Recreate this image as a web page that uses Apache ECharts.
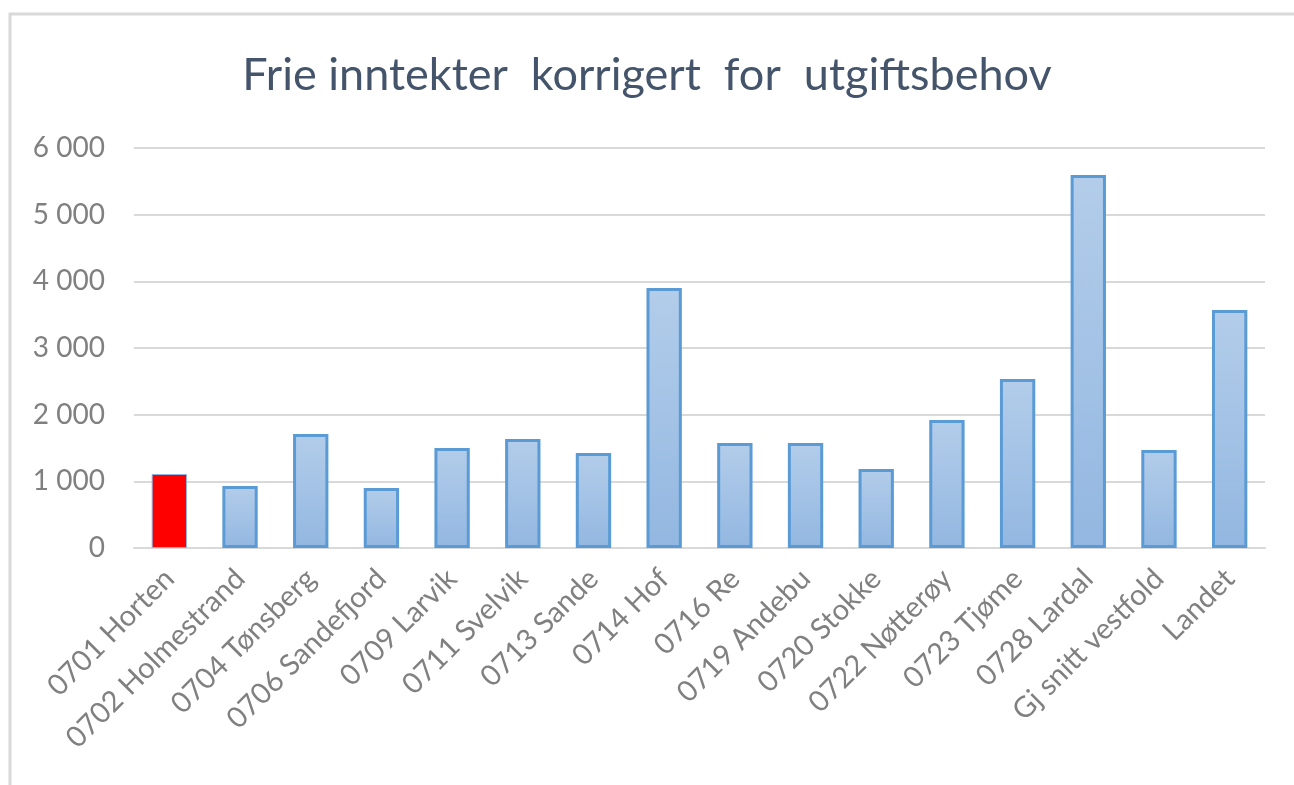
<!DOCTYPE html>
<html>
<head>
<meta charset="utf-8">
<script src="https://cdn.jsdelivr.net/npm/echarts@6/dist/echarts.min.js"></script>
<style>
  html, body { margin: 0; padding: 0; background: #fff; }
  #chart { width: 1294px; height: 785px; }
</style>
</head>
<body>
<div id="chart"></div>
<script>
const categories = [
  '0701 Horten', '0702 Holmestrand', '0704 Tønsberg', '0706 Sandefjord',
  '0709 Larvik', '0711 Svelvik', '0713 Sande', '0714 Hof', '0716 Re',
  '0719 Andebu', '0720 Stokke', '0722 Nøtterøy', '0723 Tjøme',
  '0728 Lardal', 'Gj snitt vestfold', 'Landet'
]
const values = [
  1110, 930, 1710, 900, 1500, 1635, 1425, 3900, 1575,
  1575, 1185, 1920, 2535, 5595, 1470, 3570
]
const highlighted = ['0701 Horten']
const yTicks = { min: 0, max: 6000, interval: 1000 }

const FONT = 'Lato'

const blueFill = new echarts.graphic.LinearGradient(0, 0, 0, 1, [
  { offset: 0, color: '#b3cdea' },
  { offset: 1, color: '#93b7e1' }
])

const barData = categories.map((name, i) => {
  if (highlighted.indexOf(name) >= 0) {
    return {
      value: values[i],
      itemStyle: { color: '#ff0000', borderColor: '#8db4e2', borderWidth: 1 }
    }
  }
  return values[i]
})

const chart = echarts.init(document.getElementById('chart'))
chart.setOption({
  animation: false,
  textStyle: { fontFamily: FONT },
  graphic: [{
    type: 'rect',
    shape: { x: 10, y: 14, width: 1300, height: 800 },
    style: { fill: 'none', stroke: '#d9d9d9', lineWidth: 3 },
    silent: true
  }],
  title: {
    text: 'Frie inntekter  korrigert  for  utgiftsbehov',
    left: 'center',
    top: 48,
    textStyle: { fontFamily: FONT, fontSize: 45, fontWeight: 'normal', color: '#44546a' }
  },
  grid: { left: 134, right: 29, top: 148, bottom: 237 },
  xAxis: {
    type: 'category',
    data: categories,
    axisLine: { show: true, lineStyle: { color: '#d9d9d9', width: 2 } },
    axisTick: { show: false },
    axisLabel: {
      rotate: 45,
      interval: 0,
      margin: 26,
      color: '#808080',
      fontSize: 29,
      fontFamily: FONT
    }
  },
  yAxis: {
    type: 'value',
    min: yTicks.min,
    max: yTicks.max,
    interval: yTicks.interval,
    axisLine: { show: false },
    axisTick: { show: false },
    splitLine: { lineStyle: { color: '#d9d9d9', width: 2 } },
    axisLabel: {
      margin: 29,
      color: '#808080',
      fontSize: 28,
      fontFamily: FONT,
      formatter: v => String(v).replace(/\B(?=(\d{3})+(?!\d))/g, ' ')
    }
  },
  series: [{
    type: 'bar',
    data: barData,
    barWidth: '50%',
    itemStyle: { color: blueFill, borderColor: '#5b9bd5', borderWidth: 3 }
  }]
})
</script>
</body>
</html>
